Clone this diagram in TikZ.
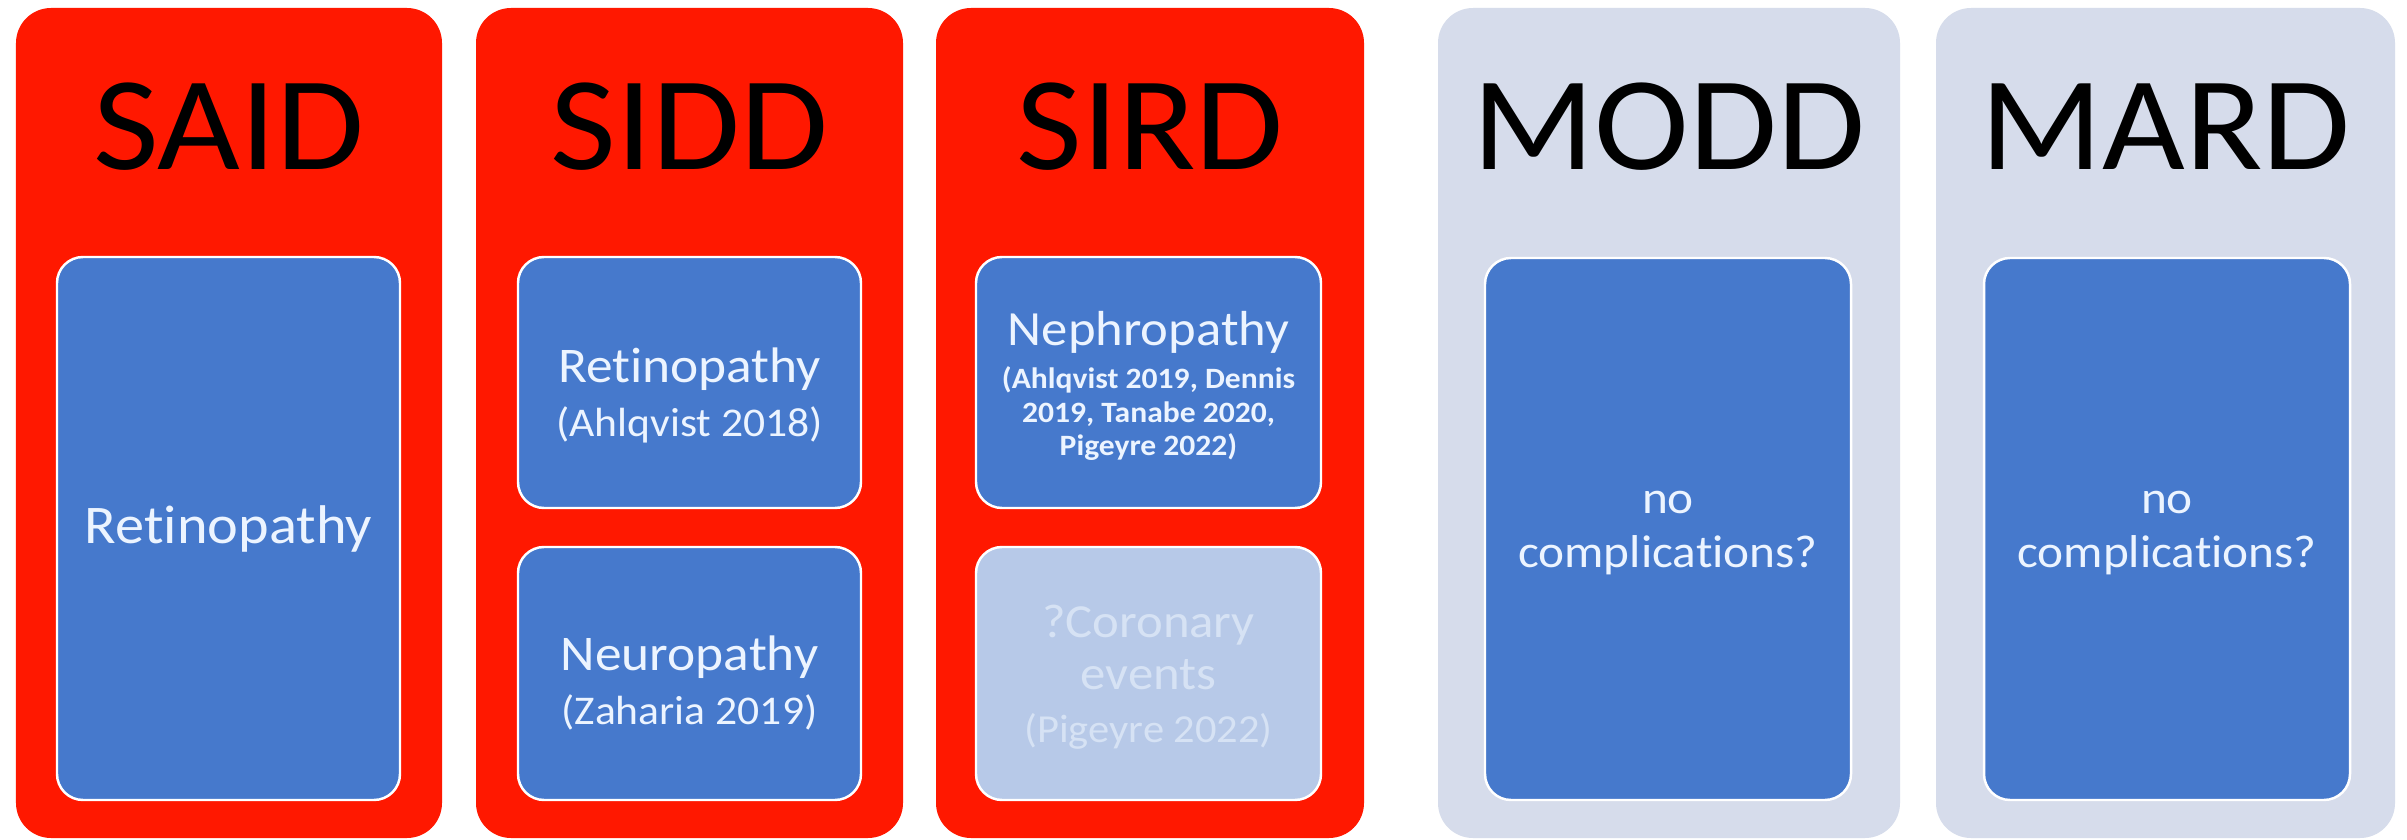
\documentclass[tikz,border=0pt]{standalone}
\usepackage{fontspec}
\setmainfont[FakeStretch=1.07,Ligatures=NoCommon]{Carlito}
\definecolor{cRed}{RGB}{255,24,0}
\definecolor{cGrey}{RGB}{214,220,235}
\definecolor{cBlue}{RGB}{70,121,204}
\definecolor{cLight}{RGB}{183,201,232}
\definecolor{cTxt}{RGB}{236,244,255}
\definecolor{cFade}{RGB}{214,226,244}
\begin{document}
\begin{tikzpicture}[
  panel/.style={rounded corners=0.35cm, inner sep=0pt, minimum height=8.30cm},
  inbox/.style={rounded corners=0.26cm, inner sep=0pt, draw=white, line width=0.7pt, fill=cBlue},
  title/.style={anchor=base, inner sep=0pt, text=black, font=\fontsize{38}{44}\selectfont},
  txt/.style={anchor=base, inner sep=0pt, text=cTxt}
]
\useasboundingbox (0,0) rectangle (24.07,-8.40);
\fill[white] (0,0) rectangle (24.07,-8.40);

% panels
\node[panel, fill=cRed, minimum width=4.26cm] (said) at (2.29,-4.23) {};
\node[panel, fill=cRed, minimum width=4.27cm] (sidd) at (6.895,-4.23) {};
\node[panel, fill=cRed, minimum width=4.28cm] (sird) at (11.50,-4.23) {};
\node[panel, fill=cGrey, minimum width=4.62cm] (modd) at (16.69,-4.23) {};
\node[panel, fill=cGrey, minimum width=4.59cm] (mard) at (21.655,-4.23) {};

% titles
\node[title] (said-t) at (2.29,-1.70) {SAID};
\node[title] (sidd-t) at (6.895,-1.70) {SIDD};
\node[title] (sird-t) at (11.50,-1.70) {SIRD};
\node[title] (modd-t) at (16.69,-1.70) {MODD};
\node[title] (mard-t) at (21.655,-1.70) {MARD};

% inner boxes
\node[inbox, minimum width=3.43cm, minimum height=5.43cm] (said-b) at (2.285,-5.285) {};
\node[inbox, minimum width=3.43cm, minimum height=2.51cm] (sidd-b1) at (6.895,-3.825) {};
\node[inbox, minimum width=3.43cm, minimum height=2.53cm] (sidd-b2) at (6.895,-6.735) {};
\node[inbox, minimum width=3.45cm, minimum height=2.51cm] (sird-b1) at (11.485,-3.825) {};
\node[inbox, fill=cLight, minimum width=3.45cm, minimum height=2.53cm] (sird-b2) at (11.485,-6.735) {};
\node[inbox, minimum width=3.66cm, minimum height=5.42cm] (modd-b) at (16.68,-5.29) {};
\node[inbox, minimum width=3.66cm, minimum height=5.42cm] (mard-b) at (21.67,-5.29) {};

% texts
\node[txt, font=\fontsize{15.5}{18}\selectfont] (said-x) at (2.285,-5.43) {Retinopathy};
\node[txt] (sidd-x1) at (6.895,-3.82) {\fontsize{11.6}{15.6}\selectfont\begin{tabular}[t]{@{}c@{}}{\fontsize{14.2}{15.6}\selectfont Retinopathy}\\ (Ahlqvist 2018)\end{tabular}};
\node[txt] (sidd-x2) at (6.895,-6.70) {\fontsize{11.6}{15.6}\selectfont\begin{tabular}[t]{@{}c@{}}{\fontsize{14.2}{15.6}\selectfont Neuropathy}\\ (Zaharia 2019)\end{tabular}};
\node[txt] (sird-x1) at (11.485,-3.45) {\fontsize{8.4}{9.5}\selectfont\bfseries\begin{tabular}[t]{@{}c@{}}{\mdseries\fontsize{14}{15.6}\selectfont Nephropathy}\\[3pt] (Ahlqvist 2019, Dennis\\ 2019, Tanabe 2020,\\ Pigeyre 2022)\end{tabular}};
\node[txt, text=cFade] (sird-x2) at (11.485,-6.37) {\fontsize{11.3}{15}\selectfont\begin{tabular}[t]{@{}c@{}}{\fontsize{13.5}{15}\selectfont ?Coronary}\\ {\fontsize{13.5}{15}\selectfont events}\\ (Pigeyre 2022)\end{tabular}};
\node[txt] (modd-x) at (16.68,-5.13) {\fontsize{13.1}{15.4}\selectfont\begin{tabular}[t]{@{}c@{}}no\\ complications?\end{tabular}};
\node[txt] (mard-x) at (21.67,-5.13) {\fontsize{13.1}{15.4}\selectfont\begin{tabular}[t]{@{}c@{}}no\\ complications?\end{tabular}};
\end{tikzpicture}
\end{document}
